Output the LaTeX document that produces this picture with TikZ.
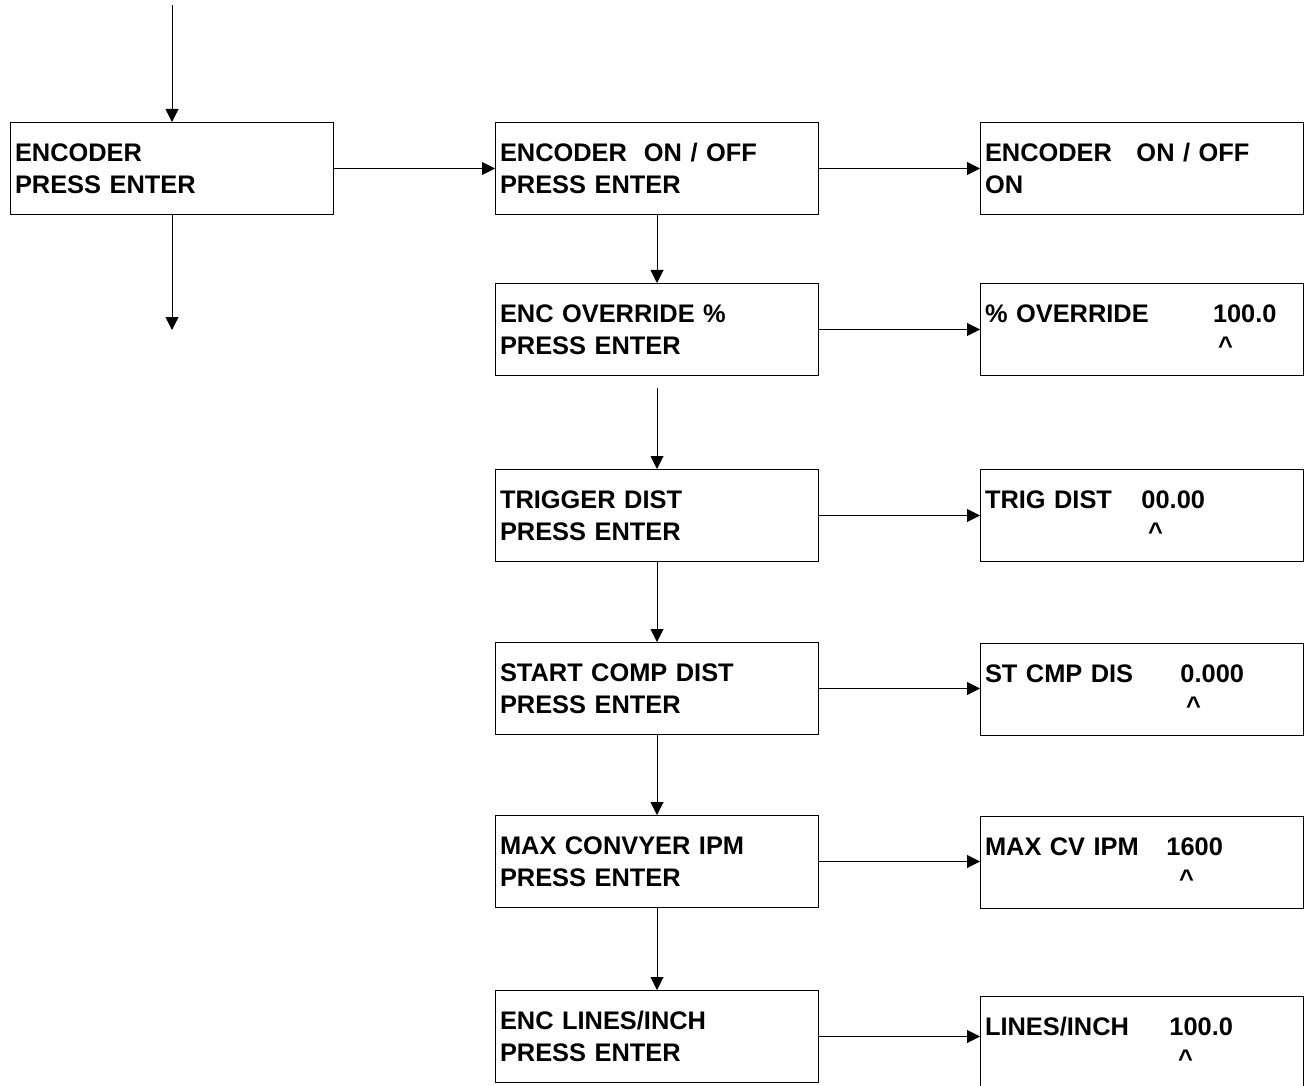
\documentclass[tikz,border=0pt]{standalone}
\usepackage{fontspec}
\setmainfont{Liberation Sans}
\usetikzlibrary{arrows.meta}

\newcommand{\readfield}[3]{\makebox[#1pt][l]{#2}#3}
\newcommand{\cursormark}[1]{\hspace*{#1pt}\textasciicircum}

\begin{document}
\begin{tikzpicture}[x=1pt,y=-1pt,
    menubox/.style={draw,line width=1pt,anchor=north west,minimum width=323pt,minimum height=92pt,
      inner xsep=4.5pt,inner ysep=0pt,text width=314pt,align=left,
      font=\bfseries\fontsize{25.4}{32}\selectfont},
    flow/.style={draw,line width=1pt,-{Triangle[width=13pt,length=13pt]}}]
  \useasboundingbox (0,0) rectangle (1307,1086);

  \node[menubox] (encoder) at (10,122) {ENCODER\\PRESS ENTER};

  \node[menubox] (onoff)    at (495,122) {\readfield{144}{ENCODER}{ON / OFF}\\PRESS ENTER};
  \node[menubox] (override) at (495,283) {ENC OVERRIDE \%\\PRESS ENTER};
  \node[menubox] (trigger)  at (495,469) {TRIGGER DIST\\PRESS ENTER};
  \node[menubox] (startcmp) at (495,642) {START COMP DIST\\PRESS ENTER};
  \node[menubox] (maxipm)   at (495,815) {MAX CONVYER IPM\\PRESS ENTER};
  \node[menubox] (lines)    at (495,990) {ENC LINES/INCH\\PRESS ENTER};

  \node[menubox] (onoffset)    at (980,122) {\readfield{151.5}{ENCODER}{ON / OFF}\\ON};
  \node[menubox] (overrideset) at (980,283) {\readfield{228}{\% OVERRIDE}{100.0}\\\cursormark{233}};
  \node[menubox] (triggerset)  at (980,469) {\readfield{156.5}{TRIG DIST}{00.00}\\\cursormark{163}};
  \node[menubox] (startcmpset) at (980,643) {\readfield{195.5}{ST CMP DIS}{0.000}\\\cursormark{201}};
  \node[menubox] (maxipmset)   at (980,816) {\readfield{181.5}{MAX CV IPM}{1600}\\\cursormark{194}};
  \node[menubox] (linesset)    at (980,996) {\readfield{184.5}{LINES/INCH}{100.0}\\\cursormark{193}};

  \coordinate (entry) at ([yshift=117pt]encoder.north);
  \coordinate (exit) at ([yshift=-115pt]encoder.south);

  \draw[flow] (entry) -- (encoder);
  \draw[flow] (encoder) -- (exit);
  \draw[flow] (encoder) -- (onoff);

  \draw[flow] (onoff) -- (override);
  \draw[flow,shorten <=12pt] (override) -- (trigger);
  \draw[flow] (trigger) -- (startcmp);
  \draw[flow] (startcmp) -- (maxipm);
  \draw[flow] (maxipm) -- (lines);

  \foreach \menu/\setting in {onoff/onoffset,override/overrideset,trigger/triggerset,
      startcmp/startcmpset,maxipm/maxipmset,lines/linesset}
    \draw[flow] (\menu.east) -- (\menu.east -| \setting.west);
\end{tikzpicture}
\end{document}
